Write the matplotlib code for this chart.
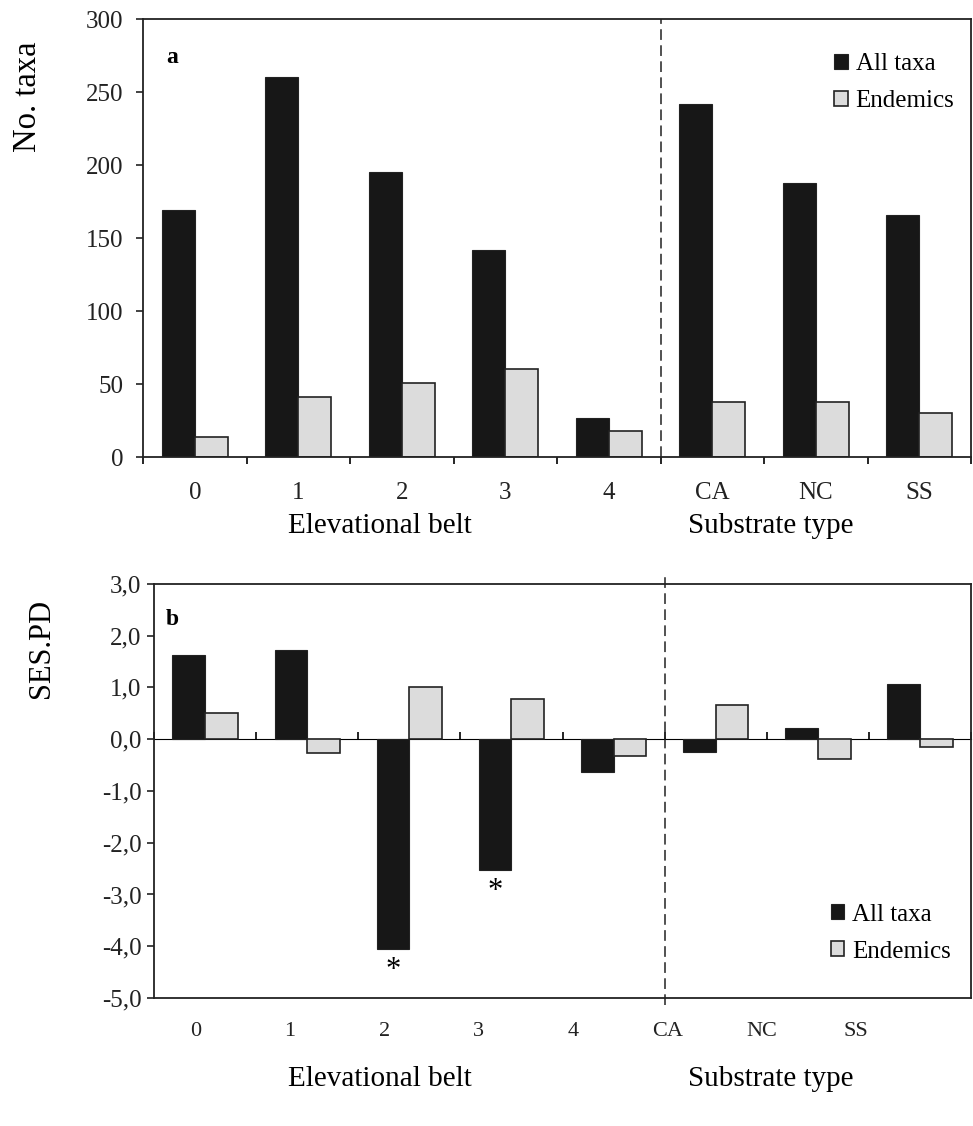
import matplotlib
matplotlib.use("Agg")
import matplotlib.pyplot as plt
import numpy as np
from matplotlib.patches import Patch

plt.rcParams['font.family'] = ['Liberation Serif', 'DejaVu Serif']

# categories (elevational belts + substrate types)
categories = ['0', '1', '2', '3', '4', 'CA', 'NC', 'SS']

# panel a: number of taxa
ntaxa_all = [169, 260, 195, 142, 27, 242, 188, 166]
ntaxa_end = [14, 41, 51, 60, 18, 38, 38, 30]

# panel b: SES.PD
sespd_all = [1.62, 1.73, -4.06, -2.53, -0.64, -0.24, 0.22, 1.07]
sespd_end = [0.51, -0.27, 1.00, 0.77, -0.32, 0.66, -0.38, -0.16]
signif = [False, False, True, True, False, False, False, False]

BLACK = '#171717'
GREY = '#dcdcdc'
EDGE = '#222222'
W = 0.32

fig = plt.figure(figsize=(9.73, 11.26), dpi=100)
ax1 = fig.add_axes([0.147, 0.5941, 0.851, 0.389])
ax2 = fig.add_axes([0.1583, 0.1137, 0.8397, 0.3677])

x = np.arange(len(categories))

# ---- panel a
ax1.bar(x - W/2, ntaxa_all, W, color=BLACK, edgecolor=EDGE, linewidth=0.8)
ax1.bar(x + W/2, ntaxa_end, W, color=GREY, edgecolor=EDGE, linewidth=1.2)
ax1.set_xlim(-0.5, len(categories) - 0.5)
ax1.set_ylim(0, 300)
ax1.set_yticks(np.arange(0, 301, 50))
ax1.set_xticks(x)
ax1.set_xticklabels(categories)
ax1.set_xticks(np.arange(-0.5, len(categories)), minor=True)
ax1.tick_params(axis='x', which='major', length=0, pad=18, labelsize=18)
ax1.tick_params(axis='x', which='minor', length=5, width=1.2, direction='out')
ax1.tick_params(axis='y', length=5, width=1.2, direction='out', pad=9, labelsize=18)
ax1.axvline(4.5, color=EDGE, lw=1.1, linestyle=(0, (7, 3.5)))
ax1.text(0.035, 0.912, 'a', transform=ax1.transAxes, fontsize=17,
         fontweight='bold', ha='center', va='center')

# ---- panel b
ax2.bar(x - W/2, sespd_all, W, color=BLACK, edgecolor=EDGE, linewidth=0.8)
ax2.bar(x + W/2, sespd_end, W, color=GREY, edgecolor=EDGE, linewidth=1.2)
ax2.set_xlim(-0.5, len(categories) - 0.5)
ax2.set_ylim(-5, 3)
ax2.set_yticks(np.arange(-5, 4, 1))
ax2.set_yticklabels([f"{v:.1f}".replace('.', ',') for v in np.arange(-5, 4, 1)])
ax2.tick_params(axis='y', length=5, width=1.2, direction='out', pad=4, labelsize=18)

# category labels sit slightly off the bar groups, as in the original
lab_pos = -0.09 + np.arange(len(categories)) * 0.923
ax2.set_xticks(lab_pos)
ax2.set_xticklabels(categories)
ax2.tick_params(axis='x', length=0, pad=17.5, labelsize=16)

# zero line with ticks at group boundaries
zero = ax2.secondary_xaxis(5 / 8)
zero.set_xticks(np.arange(-0.5, len(categories)))
zero.set_xticklabels([])
zero.tick_params(axis='x', length=5, width=1.2, direction='out')
zero.spines['bottom'].set_linewidth(1.3)
zero.spines['bottom'].set_color(EDGE)

ax2.axvline(4.5, ymin=-0.017, ymax=1.029, clip_on=False, color=EDGE, lw=1.1,
            linestyle=(0, (7, 3.5)))
for i, s in enumerate(signif):
    if s:
        ax2.annotate('*', (x[i] - W/2, sespd_all[i]), xytext=(0, -5),
                     textcoords='offset points', ha='center', va='top',
                     fontsize=22)
ax2.text(0.022, 0.915, 'b', transform=ax2.transAxes, fontsize=17,
         fontweight='bold', ha='center', va='center')

for ax in (ax1, ax2):
    for sp in ax.spines.values():
        sp.set_linewidth(1.3)
        sp.set_color(EDGE)
    ax.tick_params(colors=EDGE, labelcolor='#222222')

handles = [Patch(facecolor=BLACK, edgecolor=EDGE, linewidth=0.8),
           Patch(facecolor=GREY, edgecolor=EDGE, linewidth=1.2)]
leg_kw = dict(frameon=False, fontsize=18, handlelength=0.55, handleheight=0.55,
              handletextpad=0.3, labelspacing=0.6, borderpad=0, borderaxespad=0,
              loc='upper left')
ax1.legend(handles, ['All taxa', 'Endemics'], bbox_to_anchor=(0.835, 0.922), **leg_kw)
ax2.legend(handles, ['All taxa', 'Endemics'], bbox_to_anchor=(0.828, 0.228), **leg_kw)

# axis titles
fig.text(0.029, 0.914, 'No. taxa', rotation=90, ha='center', va='center', fontsize=23.5)
fig.text(0.043, 0.4245, 'SES.PD', rotation=90, ha='center', va='center', fontsize=22)
for yb in (1 - 533 / 1126, 1 - 1086 / 1126):
    fig.text(380 / 973, yb, 'Elevational belt', ha='center', va='baseline', fontsize=21)
    fig.text(771 / 973, yb, 'Substrate type', ha='center', va='baseline', fontsize=21)

fig.savefig('out.png', dpi=100)
